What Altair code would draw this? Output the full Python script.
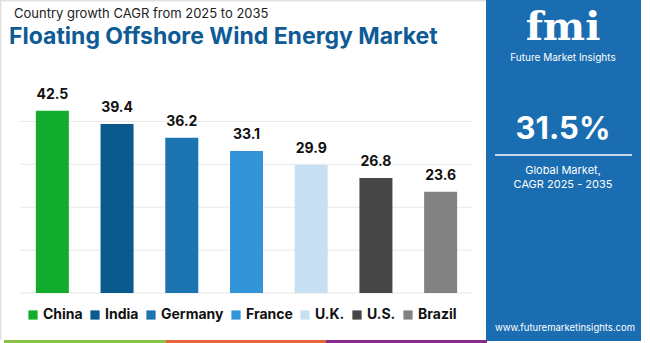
import altair as alt
import pandas as pd

countries = ["China", "India", "Germany", "France", "U.K.", "U.S.", "Brazil"]
cagr = [42.5, 39.4, 36.2, 33.1, 29.9, 26.8, 23.6]
colors = ["#12ad2f", "#0b5a8e", "#1c74b0", "#3395d7", "#c6e0f1", "#464646", "#828282"]
grid_values = [0, 10, 20, 30, 40]

df = pd.DataFrame({"country": countries, "cagr": cagr})
grid_df = pd.DataFrame({"v": grid_values})
one = pd.DataFrame({"a": [1]})

FONT = "Inter"
W, H = 650, 343

xs = alt.Scale(domain=countries, range=[20, 473], paddingInner=0.49, paddingOuter=0.245)
ys = alt.Scale(domain=[0, 45], range=[293, 100])

grid = alt.Chart(grid_df).mark_rule(color="#e8e8e8", strokeWidth=1).encode(
    y=alt.Y("v:Q", scale=ys, axis=None),
    x=alt.value(20), x2=alt.value(473),
)

bars = alt.Chart(df).mark_bar().encode(
    x=alt.X("country:N", scale=xs, axis=None, sort=countries),
    y=alt.Y("cagr:Q", scale=ys, axis=None),
    color=alt.Color(
        "country:N",
        scale=alt.Scale(domain=countries, range=colors),
        sort=countries,
        legend=alt.Legend(
            title=None, orient="none", direction="horizontal",
            legendX=26, legendY=308, gridAlign="none",
            symbolType="square", symbolSize=85, symbolStrokeWidth=0,
            labelFont=FONT, labelFontSize=14, labelFontWeight="bold", labelColor="#111111",
            columnPadding=5, symbolOffset=0, labelOffset=3,
        ),
    ),
)

labels = alt.Chart(df).mark_text(
    font=FONT, fontSize=14, fontWeight="bold", color="#111111", dy=-9, baseline="bottom"
).encode(
    x=alt.X("country:N", scale=xs, axis=None, sort=countries),
    y=alt.Y("cagr:Q", scale=ys, axis=None),
    text=alt.Text("cagr:Q", format=".1f"),
)

def txt(s, x, y, size, color="#ffffff", weight="normal", align="center", font=FONT, baseline="middle"):
    return alt.Chart(one).mark_text(
        text=s, font=font, fontSize=size, fontWeight=weight, color=color,
        align=align, baseline=baseline,
    ).encode(x=alt.value(x), y=alt.value(y))

def rect(x, x2, y, y2, color):
    return alt.Chart(one).mark_rect(color=color).encode(
        x=alt.value(x), x2=alt.value(x2), y=alt.value(y), y2=alt.value(y2)
    )

panel = rect(486, 641, 0, 341, "#1a6db1")
strip_g = rect(4, 166, 340, 343, "#8bc34a")
strip_o = rect(166, 326, 340, 343, "#e8673a")
strip_p = rect(326, 487, 340, 343, "#8a2b8e")
border_l = rect(0, 1.5, 0, 340, "#e2e2e2")
border_t = rect(0, 486, 0, 1.5, "#e2e2e2")

white_line = alt.Chart(one).mark_rule(color="#ffffff", strokeWidth=1.5).encode(
    x=alt.value(495), x2=alt.value(632), y=alt.value(155)
)

t1 = txt("Country growth CAGR from 2025 to 2035", 14, 13.5, 13, color="#222222", align="left")
t2 = txt("Floating Offshore Wind Energy Market", 9, 36.5, 23, color="#0e5b96", weight="bold", align="left")

logo = txt("fmi", 563, 40, 40, weight="bold", font="DejaVu Serif", baseline="alphabetic")
logo_sub = txt("Future Market Insights", 563, 57.5, 10)
big = txt("31.5%", 563, 130, 31, weight="bold")
g1 = txt("Global Market,", 563, 171, 11)
g2 = txt("CAGR 2025 - 2035", 563, 184.5, 11)
url = txt("www.futuremarketinsights.com", 565, 328, 9.5)

chart = alt.layer(
    border_l, border_t, grid, bars, labels,
    panel, strip_g, strip_o, strip_p, white_line,
    t1, t2, logo, logo_sub, big, g1, g2, url,
).properties(
    width=W, height=H, padding=0, autosize=alt.AutoSizeParams(type="none"),
    background="#ffffff",
).configure_view(stroke=None)

chart.save("out.html", embed_options={"renderer": "svg", "actions": False})
